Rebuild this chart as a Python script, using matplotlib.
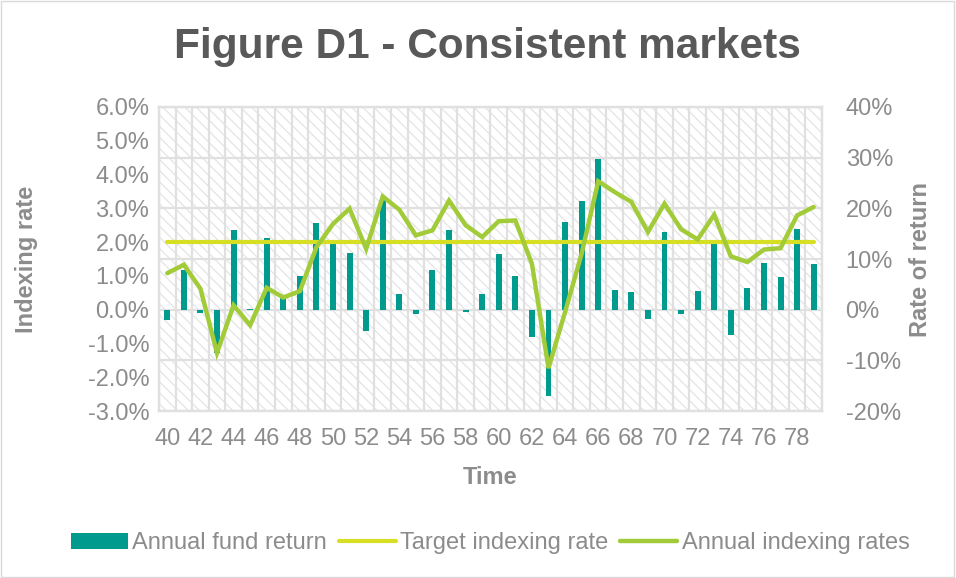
import matplotlib
matplotlib.use("Agg")
import matplotlib.pyplot as plt
import numpy as np
from matplotlib.patches import Rectangle
from matplotlib.ticker import FixedLocator, FuncFormatter

plt.rcParams["font.family"] = ["Liberation Sans", "DejaVu Sans"]
plt.rcParams["hatch.linewidth"] = 0.9

# data
years = list(range(40, 80))
fund_return = [  # % (right axis)
    -2.1, 7.8, -0.7, -8.6, 15.7, 0.1, 14.1, 2.3, 6.7, 17.2,
    13.0, 11.2, -4.3, 21.8, 3.0, -0.9, 7.8, 15.8, -0.5, 3.1,
    11.0, 6.6, -5.3, -17.0, 17.3, 21.5, 29.8, 3.8, 3.5, -1.8,
    15.4, -0.9, 3.6, 13.0, -4.9, 4.2, 9.2, 6.4, 16.0, 9.1,
]
indexing_rates = [  # % (left axis)
    1.08, 1.33, 0.62, -1.28, 0.13, -0.46, 0.65, 0.36, 0.55, 1.85,
    2.54, 2.99, 1.80, 3.35, 2.96, 2.20, 2.35, 3.23, 2.50, 2.15,
    2.62, 2.64, 1.36, -1.73, -0.07, 1.66, 3.80, 3.48, 3.19, 2.30,
    3.14, 2.38, 2.08, 2.81, 1.58, 1.41, 1.78, 1.82, 2.79, 3.04,
]
target_rate = [2.0] * len(years)

left_ticks = [-3, -2, -1, 0, 1, 2, 3, 4, 5, 6]
right_ticks = [-20, -10, 0, 10, 20, 30, 40]

teal = "#009A8E"
yellow = "#D6DF23"
green = "#A2CB3A"
txt = "#8C8C8C"
grid_c = "#E0E0E0"

fig = plt.figure(figsize=(9.56, 5.78), dpi=100)
# bottom axes holds the bars (right scale), twin on top holds the lines (left scale)
ax = fig.add_axes([0.1663, 0.2889, 0.6935, 0.526])
ax2 = ax.twinx()

x = np.arange(len(years))

# hatched background
ax.patch.set_facecolor("white")
ax.patch.set_edgecolor("#E4E4E4")
ax.patch.set_linewidth(0)
ax.patch.set_hatch("\\\\\\")

# grid: horizontal at value ticks, vertical between categories
for t in right_ticks:
    ax.axhline(t, color=grid_c, lw=1.6, zorder=1)
for b in np.arange(-0.5, len(years), 1):
    ax.axvline(b, color=grid_c, lw=1.6, zorder=1)

ax.bar(x, fund_return, width=0.36, color=teal, label="Annual fund return", zorder=3)
ax.set_ylim(-20, 40)
ax.set_xlim(-0.5, len(years) - 0.5)
ax.yaxis.set_major_locator(FixedLocator(right_ticks))
ax.yaxis.set_major_formatter(FuncFormatter(lambda v, p: f"{v:.0f}%"))
ax.yaxis.tick_right()
ax.yaxis.set_label_position("right")
ax.set_xticks(x[::2])
ax.set_xticklabels([str(y) for y in years[::2]])

ax2.plot(x, target_rate, color=yellow, lw=3.0, label="Target indexing rate",
         solid_capstyle="round")
ax2.plot(x, indexing_rates, color=green, lw=3.2, label="Annual indexing rates",
         solid_joinstyle="miter", solid_capstyle="round")
ax2.set_ylim(-3, 6)
ax2.yaxis.set_major_locator(FixedLocator(left_ticks))
ax2.yaxis.set_major_formatter(FuncFormatter(lambda v, p: f"{v:.1f}%"))
ax2.yaxis.tick_left()
ax2.yaxis.set_label_position("left")

for a in (ax, ax2):
    for s in a.spines.values():
        s.set_color(grid_c)
        s.set_linewidth(1.6)
    a.tick_params(axis="both", which="both", length=0, labelsize=17, labelcolor=txt)
ax2.tick_params(axis="y", pad=7)
ax.tick_params(axis="x", pad=12)
ax.tick_params(axis="y", pad=17)

ax2.set_ylabel("Indexing rate", fontsize=17, fontweight="bold", color=txt)
ax2.yaxis.set_label_coords(-0.1825, 0.5)
ax.set_ylabel("Rate of return", fontsize=17, fontweight="bold", color=txt)
ax.yaxis.set_label_coords(1.132, 0.5)
ax.set_xlabel("Time", fontsize=17, fontweight="bold", color=txt)
ax.xaxis.set_label_coords(0.5, -0.18)

fig.text(0.51, 0.919, "Figure D1 - Consistent markets", fontsize=30.5,
         fontweight="bold", color="#595959", ha="center", va="center")

h1, l1 = ax.get_legend_handles_labels()
h2, l2 = ax2.get_legend_handles_labels()
fig.legend(h1 + h2, l1 + l2, loc="center", bbox_to_anchor=(0.513, 0.06), ncol=3,
           frameon=False, fontsize=17, labelcolor=txt, handlelength=2.4,
           handletextpad=0.2, columnspacing=0.5)

fig.patches.append(Rectangle((0.001, 0.002), 0.997, 0.996, transform=fig.transFigure,
                             fill=False, edgecolor="#D9D9D9", lw=1))

fig.savefig("out.png", dpi=100)
